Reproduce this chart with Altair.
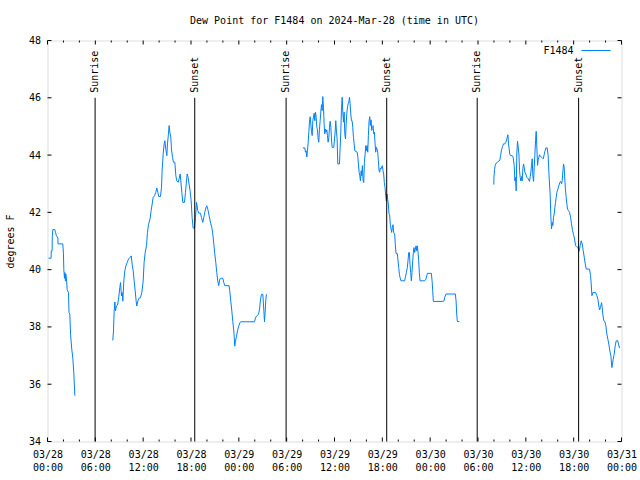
import altair as alt
import pandas as pd

FONT = "DejaVu Sans Mono"
LINE = "#0080ff"

# (hour since 2024-03-28 00:00 UTC, dew point F)
seg1 = [(0.13,40.4),(0.45,40.4),(0.47,40.65),(0.58,40.65),(0.6,41.15),(0.67,41.4),(0.92,41.4),(1.0,41.3),(1.1,41.2),(1.3,41.1),(1.32,40.9),(1.92,40.9),(2.0,40.55),(2.05,40.0),(2.13,39.7),(2.18,39.9),(2.25,39.6),(2.3,39.85),(2.4,39.6),(2.47,39.3),(2.63,39.2),(2.7,38.5),(2.8,38.45),(2.89,37.75),(3.05,37.2),(3.18,36.9),(3.3,36.4),(3.38,35.9),(3.43,35.6)]

seg2 = [(8.19,37.53),(8.28,37.86),(8.36,38.56),(8.45,38.87),(8.53,38.56),(8.65,38.73),(8.78,38.76),(8.91,38.97),(9.07,39.37),(9.16,39.55),(9.28,39.08),(9.37,39.2),(9.45,38.9),(9.57,39.6),(9.7,39.96),(9.83,40.13),(10.0,40.25),(10.16,40.37),(10.37,40.43),(10.5,40.48),(10.62,40.19),(10.75,39.96),(10.87,39.6),(11.0,39.26),(11.12,38.9),(11.2,38.73),(11.33,38.9),(11.45,39.0),(11.66,39.02),(11.83,39.2),(12.0,39.6),(12.12,40.25),(12.25,40.6),(12.42,40.83),(12.54,41.3),(12.67,41.57),(12.88,41.8),(13.0,42.06),(13.13,42.29),(13.25,42.52),(13.42,42.58),(13.59,42.7),(13.71,42.85),(13.84,42.7),(13.96,42.55),(14.17,42.55),(14.3,42.87),(14.38,43.48),(14.51,44.04),(14.63,44.39),(14.72,44.5),(14.84,44.21),(14.97,43.98),(15.05,44.39),(15.17,44.74),(15.26,45.03),(15.34,44.8),(15.47,44.62),(15.55,44.21),(15.68,43.92),(15.8,43.75),(15.97,43.75),(16.1,43.28),(16.22,43.1),(16.39,43.05),(16.51,43.17),(16.64,43.34),(16.72,43.1),(16.85,42.7),(16.97,42.35),(17.18,42.35),(17.31,42.7),(17.43,43.1),(17.52,43.34),(17.64,43.22),(17.77,42.96),(17.89,42.75),(18.02,42.4),(18.14,41.82),(18.27,41.45),(18.44,41.45),(18.56,41.82),(18.69,42.35),(18.77,42.23),(18.85,42.06),(18.98,41.97),(19.19,41.97),(19.31,41.82),(19.48,41.65),(19.6,41.82),(19.73,42.0),(19.86,42.15),(19.98,42.23),(20.11,42.11),(20.23,41.94),(20.36,41.77),(20.48,41.6),(20.61,41.48),(20.73,41.25),(20.86,40.9),(20.98,40.55),(21.11,40.25),(21.23,39.9),(21.36,39.6),(21.48,39.44),(21.61,39.67),(21.78,39.7),(21.99,39.7),(22.11,39.55),(22.24,39.44),(22.78,39.44),(22.86,39.26),(22.99,38.9),(23.12,38.56),(23.24,38.2),(23.37,37.86),(23.49,37.33),(23.58,37.5),(23.71,37.68),(23.83,37.86),(23.96,38.0),(24.13,38.15),(24.26,38.18),(25.97,38.18),(26.09,38.32),(26.22,38.38),(26.47,38.44),(26.6,38.62),(26.72,38.97),(26.85,39.14),(27.01,39.14),(27.14,38.56),(27.22,38.18),(27.31,38.56),(27.39,38.97),(27.47,39.14)]

seg3 = [(32.03,44.25),(32.28,44.25),(32.36,44.1),(32.44,44.15),(32.53,43.93),(32.61,44.15),(32.7,44.45),(32.78,44.8),(32.86,45.15),(32.95,45.34),(33.03,45.08),(33.11,44.83),(33.2,44.68),(33.28,45.2),(33.36,45.32),(33.45,45.46),(33.53,45.2),(33.61,45.5),(33.7,45.32),(33.78,44.97),(33.86,44.88),(33.95,44.56),(34.03,44.45),(34.11,44.88),(34.2,45.2),(34.28,45.5),(34.37,45.76),(34.45,45.55),(34.53,46.04),(34.62,45.67),(34.7,45.08),(34.78,44.74),(34.87,44.91),(34.95,44.8),(35.03,44.88),(35.12,44.68),(35.2,44.45),(35.29,44.62),(35.37,44.95),(35.45,45.18),(35.54,44.97),(35.62,44.56),(35.7,44.27),(35.91,44.27),(36.0,44.56),(36.08,44.8),(36.16,45.2),(36.25,44.8),(36.33,44.56),(36.41,43.69),(36.62,43.69),(36.71,44.27),(36.79,44.8),(36.87,45.55),(36.96,46.02),(37.04,45.5),(37.13,45.15),(37.21,45.5),(37.29,44.74),(37.38,44.56),(37.46,45.08),(37.54,45.44),(37.63,45.67),(37.71,45.79),(37.79,45.85),(37.88,46.02),(37.96,45.79),(38.04,45.44),(38.13,45.2),(38.21,45.2),(38.29,44.97),(38.38,44.62),(38.46,44.39),(38.55,44.15),(38.84,44.1),(38.92,43.97),(39.0,43.69),(39.09,43.4),(39.17,43.28),(39.25,43.1),(39.34,43.45),(39.42,43.28),(39.5,43.63),(39.59,43.1),(39.67,43.04),(39.75,43.74),(39.84,44.03),(39.92,44.33),(40.0,44.15),(40.09,44.33),(40.17,44.1),(40.25,44.68),(40.34,45.2),(40.42,45.34),(40.5,45.03),(40.59,45.23),(40.67,44.86),(40.75,45.0),(40.84,45.03),(40.92,44.74),(41.0,44.8),(41.09,44.39),(41.17,44.1),(41.25,44.27),(41.34,44.21),(41.42,44.1),(41.5,43.8),(41.59,43.45),(41.67,43.4),(41.75,43.55),(41.84,43.52),(42.0,43.63),(42.09,43.45),(42.17,43.34),(42.25,43.04),(42.34,42.87),(42.42,42.58),(42.5,42.4),(42.59,42.64),(42.67,42.46),(42.75,42.29),(42.84,41.94),(42.92,41.92),(43.0,41.57),(43.09,41.42),(43.17,41.3),(43.26,41.48),(43.34,41.57),(43.42,41.3),(43.55,41.24),(43.63,40.87),(43.72,40.56),(43.88,40.56),(43.97,40.31),(44.05,40.08),(44.14,39.84),(44.22,39.73),(44.34,39.61),(44.8,39.61),(44.89,39.73),(45.01,39.9),(45.14,40.08),(45.22,40.31),(45.31,40.6),(45.39,40.6),(45.47,40.19),(45.56,39.9),(45.64,39.61),(45.72,39.9),(45.81,40.31),(45.89,40.6),(45.97,40.77),(46.06,40.6),(46.14,40.72),(46.23,40.83),(46.31,40.66),(46.39,40.83),(46.48,40.6),(46.56,40.31),(46.64,39.9),(46.73,39.61),(47.31,39.61),(47.48,39.67),(47.57,39.79),(47.65,39.87),(48.15,39.87),(48.24,39.61),(48.32,39.26),(48.4,38.89),(49.57,38.89),(49.74,38.91),(49.82,39.03),(49.99,39.15),(51.16,39.15),(51.25,38.91),(51.33,38.45),(51.41,38.19),(51.66,38.19)]

seg4 = [(55.99,42.97),(55.99,43.17),(56.07,43.49),(56.16,43.64),(56.28,43.72),(56.45,43.75),(56.62,43.79),(56.74,43.83),(56.83,43.98),(56.95,44.18),(57.08,44.3),(57.2,44.39),(57.37,44.39),(57.5,44.45),(57.62,44.56),(57.75,44.71),(57.83,44.39),(57.92,44.18),(58.0,44.01),(58.12,43.98),(58.29,43.98),(58.41,43.92),(58.54,43.64),(58.62,43.1),(58.71,43.22),(58.79,42.75),(58.87,44.04),(58.96,44.48),(59.04,44.28),(59.13,44.04),(59.21,43.46),(59.29,43.22),(59.38,43.1),(59.46,43.25),(59.54,43.1),(59.63,43.52),(59.71,43.69),(59.8,43.57),(59.88,43.4),(60.0,43.34),(60.13,43.22),(60.3,43.17),(60.46,43.08),(60.55,43.25),(60.63,43.4),(60.71,43.64),(60.8,43.87),(60.88,43.28),(60.97,43.08),(61.05,43.57),(61.13,43.98),(61.22,44.51),(61.3,44.83),(61.38,44.28),(61.47,43.64),(61.55,43.83),(61.63,43.92),(61.72,44.01),(61.84,43.95),(62.01,43.92),(62.18,43.87),(62.3,44.01),(62.39,44.13),(62.51,44.25),(62.68,44.25),(62.8,43.98),(62.89,43.4),(62.97,42.99),(63.05,42.64),(63.14,41.83),(63.22,41.42),(63.31,41.65),(63.39,41.54),(63.47,41.83),(63.56,41.94),(63.64,42.17),(63.72,42.35),(63.81,42.52),(63.89,42.7),(64.02,42.81),(64.14,42.93),(64.27,43.05),(64.39,43.08),(64.48,42.99),(64.56,43.1),(64.64,43.4),(64.73,43.69),(64.81,43.57),(64.9,43.1),(64.98,42.75),(65.06,42.52),(65.15,42.29),(65.23,42.11),(65.36,42.06),(65.48,42.0),(65.61,41.83),(65.73,41.6),(65.86,41.36),(65.99,41.22),(66.11,41.07),(66.24,40.84),(66.36,40.8),(66.53,40.78),(66.66,40.64),(66.74,40.72),(66.82,40.84),(66.95,41.01),(67.08,40.89),(67.2,40.66),(67.33,40.43),(67.45,40.2),(67.58,40.02),(67.99,40.02),(68.12,39.79),(68.2,39.5),(68.29,39.09),(68.41,39.2),(68.75,39.2),(68.91,39.09),(69.04,38.97),(69.12,38.8),(69.25,38.59),(69.37,38.68),(69.5,38.85),(69.58,38.68),(69.66,38.42),(69.79,38.21),(69.91,38.19),(70.04,38.04),(70.16,37.75),(70.29,37.57),(70.41,37.4),(70.54,37.16),(70.67,36.99),(70.79,36.58),(70.87,36.7),(70.96,36.87),(71.08,37.05),(71.21,37.34),(71.33,37.51),(71.5,37.53),(71.63,37.4),(71.75,37.26)]

event_names = ["Sunrise", "Sunset", "Sunrise", "Sunset", "Sunrise", "Sunset"]
event_hours = [5.97, 18.47, 29.93, 42.55, 53.9, 66.62]
event_top = 46
y_bottom = 34

major_x = list(range(0, 73, 6))
minor_x = [h for h in range(0, 73, 2) if h % 6]
y_ticks = list(range(34, 49, 2))

title_text = "Dew Point for F1484 on 2024-Mar-28 (time in UTC)"
legend_label = "F1484"

rows = []
for k, seg in enumerate([seg1, seg2, seg3, seg4]):
    for h, v in seg:
        rows.append({"h": h, "v": v, "seg": k})
df = pd.DataFrame(rows)
ev = pd.DataFrame({"name": event_names, "h": event_hours,
                   "top": [event_top] * len(event_names),
                   "bot": [y_bottom] * len(event_names)})
maj = pd.DataFrame({"h": major_x})
mnr = pd.DataFrame({"h": minor_x})
yt = pd.DataFrame({"v": y_ticks})

W, H = 574, 401

xs = alt.Scale(domain=[0, 72], nice=False, zero=False)
ys = alt.Scale(domain=[34, 48], nice=False, zero=False)

x_axis = alt.Axis(
    values=major_x,
    labelExpr="['03/' + (28 + floor(datum.value / 24)), (datum.value % 24 < 10 ? '0' : '') + (datum.value % 24) + ':00']",
    ticks=False, tickSize=0, domain=False, grid=False, labelPadding=8,
    labelFont=FONT, labelFontSize=10, labelColor="black", labelLineHeight=13,
    labelFlush=False, labelOverlap=False, title=None,
)
y_axis = alt.Axis(
    values=y_ticks, ticks=False, tickSize=0, domain=False, grid=False,
    labelPadding=7, labelFont=FONT, labelFontSize=10, labelColor="black",
    title="degrees F", titleFont=FONT, titleFontSize=10, titleFontWeight="normal",
    titleColor="black", titleX=-37.5, titleY=200.5, titleAngle=270,
    titleAlign="center", titleBaseline="middle",
)

X = alt.X("h:Q", scale=xs, axis=x_axis)

line = alt.Chart(df).mark_line(color=LINE, strokeWidth=1).encode(
    x=X, y=alt.Y("v:Q", scale=ys, axis=y_axis), detail="seg:N"
)

ev_rules = alt.Chart(ev).mark_rule(color="black", strokeWidth=1).encode(
    x=X, y=alt.Y("top:Q", scale=ys, axis=y_axis), y2="bot:Q"
)
ev_text = alt.Chart(ev).mark_text(
    angle=270, align="left", baseline="middle", dx=5,
    font=FONT, fontSize=10, color="black"
).encode(x=X, y=alt.Y("top:Q", scale=ys, axis=y_axis), text="name:N")

tick_style = dict(color="black", strokeWidth=1)
bot_major = alt.Chart(maj).mark_rule(**tick_style).encode(x=X, y=alt.value(H), y2=alt.value(H - 4))
top_major = alt.Chart(maj).mark_rule(**tick_style).encode(x=X, y=alt.value(0), y2=alt.value(4))
bot_minor = alt.Chart(mnr).mark_rule(**tick_style).encode(x=X, y=alt.value(H), y2=alt.value(H - 2))
top_minor = alt.Chart(mnr).mark_rule(**tick_style).encode(x=X, y=alt.value(0), y2=alt.value(2))
Yt = alt.Y("v:Q", scale=ys, axis=y_axis)
left_t = alt.Chart(yt).mark_rule(**tick_style).encode(y=Yt, x=alt.value(0), x2=alt.value(4))
right_t = alt.Chart(yt).mark_rule(**tick_style).encode(y=Yt, x=alt.value(W), x2=alt.value(W - 4))

leg_df = pd.DataFrame({"t": [legend_label]})
leg_text = alt.Chart(leg_df).mark_text(
    align="right", baseline="middle", font=FONT, fontSize=10, color="black"
).encode(text="t:N", x=alt.value(526), y=alt.value(10))
leg_line = alt.Chart(leg_df).mark_rule(color=LINE, strokeWidth=1).encode(
    x=alt.value(534), x2=alt.value(563), y=alt.value(10)
)

chart = alt.layer(
    line, ev_rules, ev_text, bot_major, top_major, bot_minor, top_minor,
    left_t, right_t, leg_text, leg_line
).properties(
    width=W, height=H,
    padding={"left": 47.5, "top": 40.5, "right": 18.5, "bottom": 38.5},
    autosize=alt.AutoSizeParams(type="none"),
    title=alt.TitleParams(title_text, font=FONT, fontSize=10, fontWeight="normal",
                          color="black", anchor="middle", offset=10),
).configure_view(stroke="black", strokeWidth=1).configure(background="white")

chart.save("out.html", embed_options={"renderer": "svg", "actions": False})
